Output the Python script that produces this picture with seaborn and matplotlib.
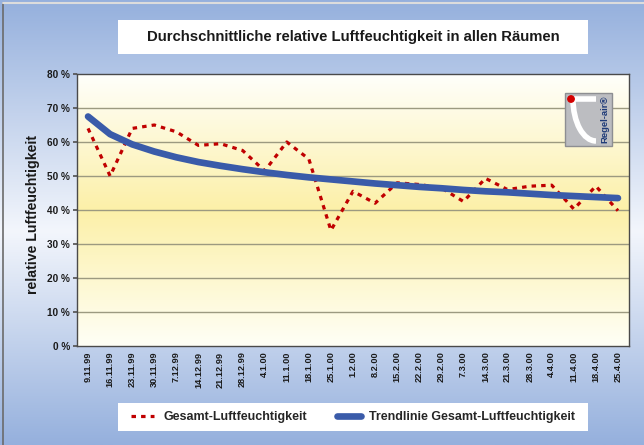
"""Durchschnittliche relative Luftfeuchtigkeit - Excel-style line chart with trendline."""

import matplotlib.pyplot as plt
import numpy as np
import pandas as pd
import seaborn as sns
from matplotlib.colors import LinearSegmentedColormap
from matplotlib.lines import Line2D
from matplotlib.patches import Arc, Circle, Rectangle

# measurement dates (weekly)
dates = [
    "9.11.99", "16.11.99", "23.11.99", "30.11.99", "7.12.99", "14.12.99",
    "21.12.99", "28.12.99", "4.1.00", "11.1.00", "18.1.00", "25.1.00",
    "1.2.00", "8.2.00", "15.2.00", "22.2.00", "29.2.00", "7.3.00",
    "14.3.00", "21.3.00", "28.3.00", "4.4.00", "11.4.00", "18.4.00", "25.4.00",
]
# average relative humidity in %
humidity = [
    64, 50, 64, 65, 63, 59, 59.5, 57.5, 51.5, 60, 55, 34,
    45.5, 42, 48, 47.5, 46.5, 42.5, 49.3, 46, 47, 47.3, 40.3, 47, 39.8,
]
# logarithmic trendline
trend = [
    67.5, 62.3, 59.3, 57.2, 55.5, 54.1, 53.0, 52.0, 51.1, 50.3, 49.6, 49.0,
    48.4, 47.8, 47.3, 46.8, 46.4, 45.9, 45.5, 45.2, 44.8, 44.4, 44.1, 43.8, 43.5,
]
y_ticks = [0, 10, 20, 30, 40, 50, 60, 70, 80]

label_data = "Gesamt-Luftfeuchtigkeit"
label_trend = "Trendlinie Gesamt-Luftfeuchtigkeit"

df = pd.DataFrame({"idx": range(len(dates)), "datum": dates,
                   "feuchte": humidity, "trend": trend})

sns.set_theme(style="white")
plt.rcParams["font.family"] = ["Liberation Sans", "DejaVu Sans"]
plt.rcParams["font.weight"] = "bold"

W, H = 644, 445
fig = plt.figure(figsize=(W / 100, H / 100), dpi=100)

# blue-white-blue figure background
bg = fig.add_axes([0, 0, 1, 1], zorder=-10)
bg_cmap = LinearSegmentedColormap.from_list(
    "bg", [(0, "#95b0dd"), (0.52, "#f3f6fc"), (1, "#95b0dd")])
bg.imshow(np.linspace(0, 1, 256).reshape(-1, 1), aspect="auto", cmap=bg_cmap,
          extent=[0, 1, 0, 1])
bg.set_xlim(0, 1)
bg.set_ylim(0, 1)
bg.axis("off")


def px(x0, y0, x1, y1):
    """Pixel box (top-left origin) -> figure rect."""
    return [x0 / W, 1 - y1 / H, (x1 - x0) / W, (y1 - y0) / H]


ax = fig.add_axes(px(77, 74, 629, 346))

# white-yellow-white plot area gradient
area_cmap = LinearSegmentedColormap.from_list(
    "area", [(0, "#fffffb"), (0.5, "#fcf0a8"), (1, "#fffff6")])
ax.imshow(np.linspace(0, 1, 256).reshape(-1, 1), aspect="auto", cmap=area_cmap,
          extent=[-0.5, len(dates) - 0.5, 0, 80], zorder=0)

for v in y_ticks[1:-1]:
    ax.axhline(v, color="#9c9a80", lw=1, zorder=1)

sns.lineplot(data=df, x="idx", y="feuchte", ax=ax, color="#c00000", lw=2.3,
             linestyle=(0, (1.4, 1.6)), zorder=3)
sns.lineplot(data=df, x="idx", y="trend", ax=ax, color="#3a5ba9", lw=4.8,
             solid_capstyle="round", zorder=4)

ax.set_xlim(-0.5, len(dates) - 0.5)
ax.set_ylim(0, 80)
ax.set_xticks(range(len(dates)))
ax.set_xticklabels(dates, rotation=90, fontsize=6.6, fontweight="bold")
ax.set_xticks(np.arange(len(dates) + 1) - 0.5, minor=True)
ax.set_yticks(y_ticks)
ax.set_yticklabels([f"{v} %" for v in y_ticks], fontsize=7.2, fontweight="bold")
ax.tick_params(axis="x", which="major", length=0, pad=4, colors="#1a1a1a")
ax.tick_params(axis="x", which="minor", length=3, color="#555555", direction="out")
ax.tick_params(axis="y", length=3, color="#555555", direction="out", pad=2,
               colors="#1a1a1a", left=True)
ax.set_xlabel("")
ax.set_ylabel("")
for s in ax.spines.values():
    s.set_color("#4a4a4a")
    s.set_linewidth(1)

fig.text(33 / W, 1 - 215 / H, "relative Luftfeuchtigkeit", rotation=90,
         ha="center", va="center", fontsize=10.2, fontweight="bold", color="#1a1a1a")

# overlay in pixel coordinates for boxes and logo
ov = fig.add_axes([0, 0, 1, 1], zorder=5)
ov.set_xlim(0, W)
ov.set_ylim(H, 0)
ov.axis("off")

# outer frame lines
ov.plot([3, 3], [3, H], color="#6b6b6b", lw=1.2)
ov.plot([3, W], [3, 3], color="#dcdcdc", lw=1.5)

# title box
ov.add_patch(Rectangle((118, 20), 470, 34, facecolor="white", edgecolor="none"))
ov.text(353, 37.5, "Durchschnittliche relative Luftfeuchtigkeit in allen Räumen",
        ha="center", va="center", fontsize=10.7, fontweight="bold", color="#1a1a1a")

# legend box
ov.add_patch(Rectangle((118, 403), 470, 28, facecolor="white", edgecolor="none"))
handles = [
    Line2D([], [], color="#c00000", lw=2.3, linestyle=(0, (1.4, 1.6))),
    Line2D([], [], color="#3a5ba9", lw=4.8, solid_capstyle="round"),
]
fig.legend(handles, [label_data, label_trend], ncol=2, loc="center",
           bbox_to_anchor=(353 / W, 1 - 417 / H), frameon=False,
           prop={"size": 9, "weight": "bold"}, handlelength=1.9,
           columnspacing=2.4, handletextpad=0.7)

# Regel-air logo
ov.add_patch(Rectangle((565, 93), 47, 53, facecolor="#bcbdc1",
                       edgecolor="#8d8e92", lw=1, zorder=6))
ov.plot([573, 596], [99, 99], color="white", lw=4, solid_capstyle="butt", zorder=7)
ov.add_patch(Arc((596, 99), 46, 84, theta1=90, theta2=180, color="white",
                 lw=4, zorder=7))
ov.add_patch(Circle((571, 99), 3.2, color="#d40000", zorder=8))
ov.text(605, 119, "Regel-air®", rotation=90, ha="center", va="center",
        fontsize=6.8, fontweight="bold", color="#1e3a78", zorder=8)

fig.savefig("out.png", dpi=100)
